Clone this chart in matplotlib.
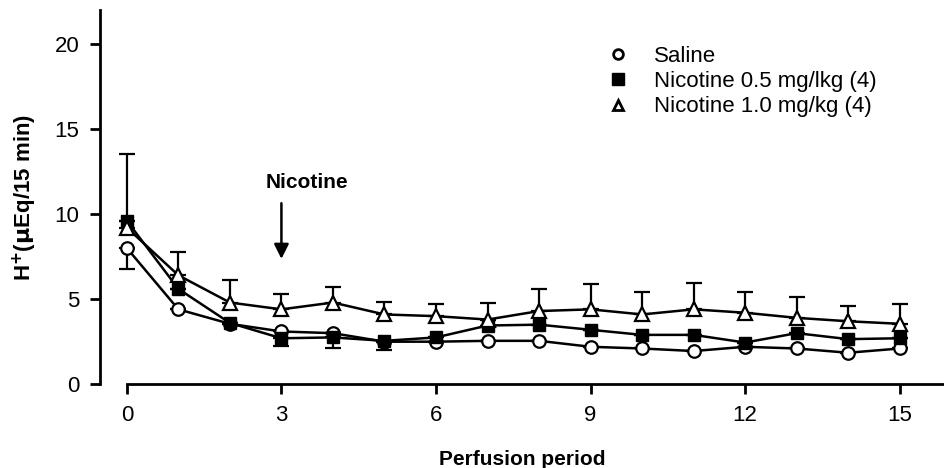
import numpy as np
import matplotlib.pyplot as plt
from matplotlib.lines import Line2D

plt.rcParams['font.family'] = ['Liberation Sans', 'DejaVu Sans']

periods = np.arange(16)
saline = [8.0, 4.4, 3.55, 3.1, 3.0, 2.5, 2.5, 2.55, 2.55, 2.2, 2.1, 1.95, 2.2, 2.1, 1.85, 2.1]
nic05 = [9.6, 5.6, 3.6, 2.7, 2.75, 2.55, 2.75, 3.45, 3.5, 3.2, 2.9, 2.9, 2.45, 3.0, 2.65, 2.7]
nic10 = [9.2, 6.4, 4.8, 4.4, 4.8, 4.1, 4.0, 3.8, 4.3, 4.4, 4.1, 4.4, 4.2, 3.9, 3.7, 3.55]

# error bars (only one side visible in the figure)
saline_err_lo = [1.2, 0, 0, 0, 0, 0, 0, 0, 0, 0, 0, 0, 0, 0, 0, 0]
nic05_err_lo = [0, 0, 0, 0.45, 0.65, 0.55, 0, 0, 0, 0, 0, 0, 0, 0, 0, 0]
nic10_err_hi = [4.3, 1.35, 1.3, 0.9, 0.9, 0.75, 0.7, 1.0, 1.3, 1.5, 1.3, 1.55, 1.2, 1.2, 0.9, 1.15]

labels = ['Saline', 'Nicotine 0.5 mg/lkg (4)', 'Nicotine 1.0 mg/kg (4)']

fig = plt.figure(figsize=(9.44, 4.68), dpi=100)
ax = fig.add_axes([0.106, 0.179, 0.894, 0.80])

zeros = np.zeros(16)
ax.errorbar(periods, saline, yerr=[saline_err_lo, zeros], color='black', lw=1.8,
            marker='o', ms=9, mfc='white', mec='black', mew=1.6, capsize=6,
            elinewidth=1.6, capthick=1.6, zorder=3)
ax.errorbar(periods, nic05, yerr=[nic05_err_lo, zeros], color='black', lw=1.8,
            marker='s', ms=9, mfc='black', mec='black', capsize=6,
            elinewidth=1.6, capthick=1.6, zorder=4)
ax.errorbar(periods, nic10, yerr=[zeros, nic10_err_hi], color='black', lw=1.8,
            marker='^', ms=10, mfc='white', mec='black', mew=1.6, capsize=6,
            elinewidth=1.6, capthick=1.6, zorder=5)

ax.set_xlim(-0.52, 15.86)
ax.set_ylim(0, 22)
ax.set_xticks([0, 3, 6, 9, 12, 15])
ax.set_yticks([0, 5, 10, 15, 20])

for s in ['top', 'right']:
    ax.spines[s].set_visible(False)
ax.spines['left'].set_linewidth(2)
ax.spines['bottom'].set_linewidth(2)
ax.spines['bottom'].set_bounds(0, 15.86)
ax.tick_params(axis='both', direction='out', length=7, width=2, labelsize=16, pad=8)

ax.set_ylabel('H$^{\\mathbf{+}}$($\\mathbf{\\mu}$Eq/15 min)', fontsize=16,
              fontweight='bold', labelpad=11)
ax.set_xlabel('Perfusion period', fontsize=15, fontweight='bold', labelpad=17)

ax.annotate('', xy=(3, 7.2), xytext=(3, 10.8),
            arrowprops=dict(arrowstyle='-|>', color='black', lw=1.8,
                            mutation_scale=22))
ax.text(3.5, 11.3, 'Nicotine', ha='center', va='bottom', fontsize=15,
        fontweight='bold')

handles = [
    Line2D([], [], ls='none', marker='o', ms=7, mfc='white', mec='black', mew=2),
    Line2D([], [], ls='none', marker='s', ms=8, mfc='black', mec='black'),
    Line2D([], [], ls='none', marker='^', ms=7, mfc='white', mec='black', mew=2),
]
ax.legend(handles, labels, loc='upper left', bbox_to_anchor=(0.58, 0.952),
          frameon=False, fontsize=16, handlelength=1.0, handletextpad=1.1,
          labelspacing=0.2, borderpad=0.3)

fig.savefig('out.png', dpi=100)
